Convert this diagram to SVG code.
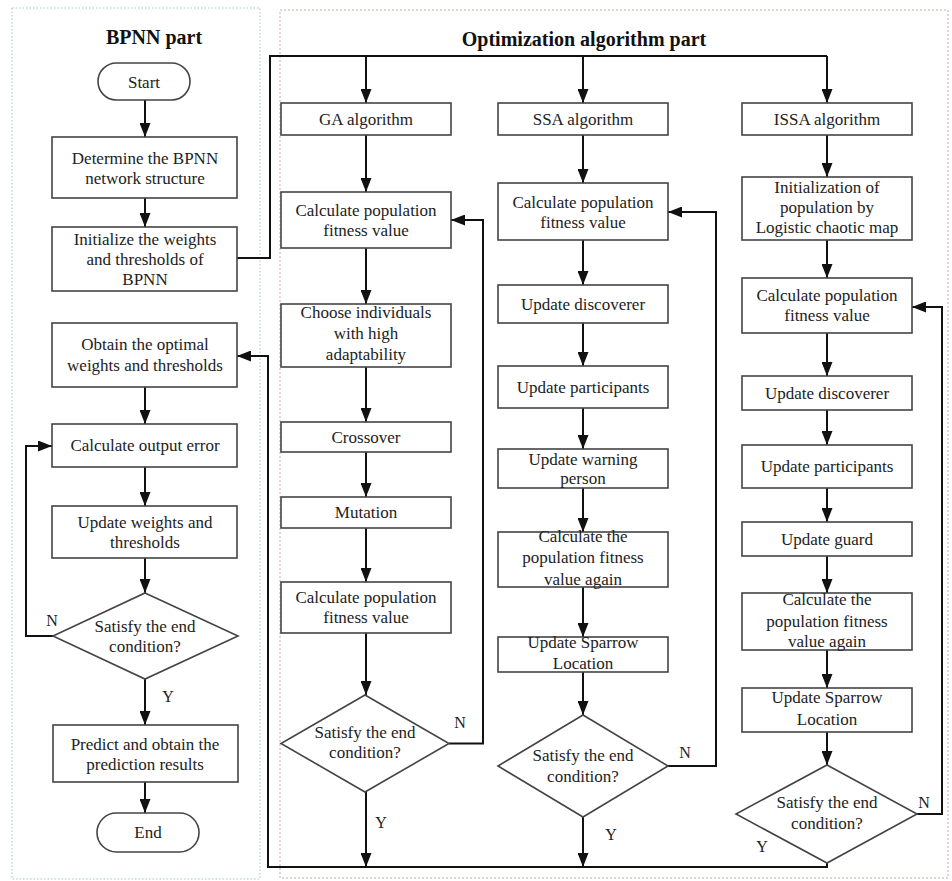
<svg xmlns="http://www.w3.org/2000/svg" width="952" height="881" viewBox="0 0 952 881">
<defs>
<marker id="ah" viewBox="0 0 14 11" markerWidth="14" markerHeight="11" refX="14" refY="5.5" orient="auto" markerUnits="userSpaceOnUse">
<path d="M0,0 L14,5.5 L0,11 z" fill="#111"/>
</marker>
<style>
.box{fill:#fff;stroke:#444;stroke-width:1.6}
text{font-family:'Liberation Serif','DejaVu Serif',serif}
.t{font-size:17px;fill:#222;text-anchor:middle}
.lbl{font-size:16px;fill:#222;text-anchor:middle}
.title{font-size:20px;font-weight:bold;fill:#111;text-anchor:middle}
.c{fill:none;stroke:#111;stroke-width:2}
.a{marker-end:url(#ah)}
</style>
</defs>
<rect width="952" height="881" fill="#fff"/>
<g id="panels">
<rect x="12" y="8" width="248" height="871" fill="none" stroke="#9cc7cc" stroke-width="1" stroke-dasharray="1.5 2"/>
<rect x="280" y="10" width="668" height="868" fill="none" stroke="#c9a7a7" stroke-width="1" stroke-dasharray="2 2"/>
<text class="title" x="154" y="44" font-family="Liberation Serif, serif">BPNN part</text>
<text class="title" x="584" y="46" font-family="Liberation Serif, serif">Optimization algorithm part</text>
</g>
<g id="connectors">
<path class="c a" d="M145,100 V137"/>
<path class="c a" d="M145,198 V227"/>
<path class="c a" d="M145,387 V424"/>
<path class="c a" d="M145,467 V506"/>
<path class="c a" d="M145,558 V593"/>
<path class="c a" d="M145,679 V725"/>
<path class="c a" d="M145,782 V813"/>
<path class="c a" d="M53,636 H26 V446 H52"/>
<path class="c" d="M237,258 H270 V56 H827"/>
<path class="c a" d="M366,56 V103"/>
<path class="c a" d="M583,56 V103"/>
<path class="c a" d="M827,56 V103"/>
<path class="c a" d="M827,863 V867 H268 V356 H237"/>
<path class="c a" d="M366,135 V192"/>
<path class="c a" d="M366,248 V304"/>
<path class="c a" d="M366,367 V422"/>
<path class="c a" d="M366,452 V497"/>
<path class="c a" d="M366,528 V582"/>
<path class="c a" d="M366,633 V695"/>
<path class="c a" d="M366,792 V867"/>
<path class="c a" d="M449,743.5 H483 V220 H451"/>
<path class="c a" d="M583,135 V183"/>
<path class="c a" d="M583,240 V285"/>
<path class="c a" d="M583,323 V366"/>
<path class="c a" d="M583,408 V449"/>
<path class="c a" d="M583,488 V532"/>
<path class="c a" d="M583,587 V637"/>
<path class="c a" d="M583,672 V715"/>
<path class="c a" d="M583,817 V867"/>
<path class="c a" d="M668,766 H716 V212 H668"/>
<path class="c a" d="M827,135 V177"/>
<path class="c a" d="M827,240 V278"/>
<path class="c a" d="M827,333 V376"/>
<path class="c a" d="M827,410 V445"/>
<path class="c a" d="M827,488 V522"/>
<path class="c a" d="M827,556 V593"/>
<path class="c a" d="M827,650 V688"/>
<path class="c a" d="M827,732 V765"/>
<path class="c a" d="M917,814 H942 V307 H912"/>
<text class="lbl" x="52" y="626">N</text>
<text class="lbl" x="168" y="702">Y</text>
<text class="lbl" x="460" y="728">N</text>
<text class="lbl" x="381" y="828">Y</text>
<text class="lbl" x="685" y="758">N</text>
<text class="lbl" x="611" y="840">Y</text>
<text class="lbl" x="924" y="808">N</text>
<text class="lbl" x="762" y="852">Y</text>
</g>
<g id="start"><rect class="box" x="98" y="63" width="92" height="37" rx="18.5"/><text class="t" x="144" y="88">Start</text></g>
<g id="determine"><rect class="box" x="52" y="137" width="185" height="61"/><text class="t" x="145" y="164">Determine the BPNN</text><text class="t" x="145" y="184">network structure</text></g>
<g id="initialize"><rect class="box" x="52" y="227" width="185" height="64"/><text class="t" x="145" y="245">Initialize the weights</text><text class="t" x="145" y="265">and thresholds of</text><text class="t" x="145" y="285">BPNN</text></g>
<g id="obtain"><rect class="box" x="52" y="323" width="185" height="64"/><text class="t" x="145" y="350">Obtain the optimal</text><text class="t" x="145" y="371">weights and thresholds</text></g>
<g id="outerr"><rect class="box" x="52" y="424" width="185" height="43"/><text class="t" x="145" y="451">Calculate output error</text></g>
<g id="updw"><rect class="box" x="52" y="506" width="185" height="52"/><text class="t" x="145" y="528">Update weights and</text><text class="t" x="145" y="548">thresholds</text></g>
<g id="bp_cond"><polygon class="box" points="145,593 238,636 145,679 53,636"/><text class="t" x="145" y="632">Satisfy the end</text><text class="t" x="145" y="652">condition?</text></g>
<g id="predict"><rect class="box" x="53" y="725" width="185" height="57"/><text class="t" x="145" y="750">Predict and obtain the</text><text class="t" x="145" y="770">prediction results</text></g>
<g id="end"><rect class="box" x="97" y="813" width="102" height="39" rx="19.5"/><text class="t" x="148" y="838">End</text></g>

<g id="ga"><rect class="box" x="281" y="103" width="170" height="32"/><text class="t" x="366" y="125">GA algorithm</text></g>
<g id="ga_fit1"><rect class="box" x="281" y="192" width="170" height="56"/><text class="t" x="366" y="216">Calculate population</text><text class="t" x="366" y="236">fitness value</text></g>
<g id="ga_choose"><rect class="box" x="281" y="304" width="170" height="63"/><text class="t" x="366" y="318">Choose individuals</text><text class="t" x="366" y="339">with high</text><text class="t" x="366" y="360">adaptability</text></g>
<g id="ga_cross"><rect class="box" x="281" y="422" width="170" height="30"/><text class="t" x="366" y="443">Crossover</text></g>
<g id="ga_mut"><rect class="box" x="281" y="497" width="170" height="31"/><text class="t" x="366" y="518">Mutation</text></g>
<g id="ga_fit2"><rect class="box" x="281" y="582" width="170" height="51"/><text class="t" x="366" y="603">Calculate population</text><text class="t" x="366" y="623">fitness value</text></g>
<g id="ga_cond"><polygon class="box" points="365,695 449,743.5 365,792 281,743.5"/><text class="t" x="365" y="738">Satisfy the end</text><text class="t" x="365" y="758">condition?</text></g>

<g id="ssa"><rect class="box" x="498" y="103" width="170" height="32"/><text class="t" x="583" y="125">SSA algorithm</text></g>
<g id="ssa_fit"><rect class="box" x="498" y="183" width="170" height="57"/><text class="t" x="583" y="208">Calculate population</text><text class="t" x="583" y="228">fitness value</text></g>
<g id="ssa_disc"><rect class="box" x="498" y="285" width="170" height="38"/><text class="t" x="583" y="310">Update discoverer</text></g>
<g id="ssa_part"><rect class="box" x="498" y="366" width="170" height="42"/><text class="t" x="583" y="393">Update participants</text></g>
<g id="ssa_warn"><rect class="box" x="498" y="449" width="170" height="39"/><text class="t" x="583" y="465">Update warning</text><text class="t" x="583" y="484">person</text></g>
<g id="ssa_fit2"><rect class="box" x="498" y="532" width="170" height="55"/><text class="t" x="583" y="542">Calculate the</text><text class="t" x="583" y="563">population fitness</text><text class="t" x="583" y="585">value again</text></g>
<g id="ssa_loc"><rect class="box" x="498" y="637" width="170" height="35"/><text class="t" x="583" y="648">Update Sparrow</text><text class="t" x="583" y="669">Location</text></g>
<g id="ssa_cond"><polygon class="box" points="583,715 668,766 583,817 498,766"/><text class="t" x="583" y="761">Satisfy the end</text><text class="t" x="583" y="782">condition?</text></g>

<g id="issa"><rect class="box" x="742" y="103" width="170" height="32"/><text class="t" x="827" y="125">ISSA algorithm</text></g>
<g id="issa_init"><rect class="box" x="742" y="177" width="170" height="63"/><text class="t" x="827" y="193">Initialization of</text><text class="t" x="827" y="213">population by</text><text class="t" x="827" y="233">Logistic chaotic map</text></g>
<g id="issa_fit"><rect class="box" x="742" y="278" width="170" height="55"/><text class="t" x="827" y="301">Calculate population</text><text class="t" x="827" y="321">fitness value</text></g>
<g id="issa_disc"><rect class="box" x="742" y="376" width="170" height="34"/><text class="t" x="827" y="399">Update discoverer</text></g>
<g id="issa_part"><rect class="box" x="742" y="445" width="170" height="43"/><text class="t" x="827" y="472">Update participants</text></g>
<g id="issa_guard"><rect class="box" x="742" y="522" width="170" height="34"/><text class="t" x="827" y="545">Update guard</text></g>
<g id="issa_fit2"><rect class="box" x="742" y="593" width="170" height="57"/><text class="t" x="827" y="605">Calculate the</text><text class="t" x="827" y="627">population fitness</text><text class="t" x="827" y="647">value again</text></g>
<g id="issa_loc"><rect class="box" x="742" y="688" width="170" height="44"/><text class="t" x="827" y="703">Update Sparrow</text><text class="t" x="827" y="725">Location</text></g>
<g id="issa_cond"><polygon class="box" points="827,765 917,814 827,863 736,814"/><text class="t" x="827" y="808">Satisfy the end</text><text class="t" x="827" y="829">condition?</text></g>
</svg>
